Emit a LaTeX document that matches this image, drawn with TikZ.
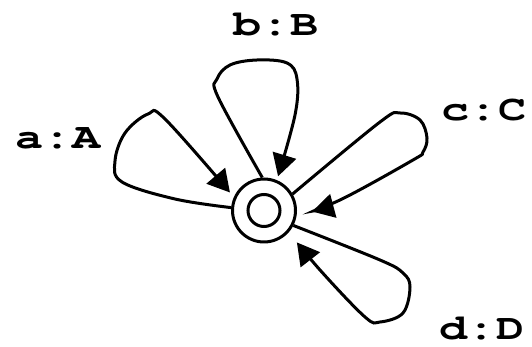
\documentclass[tikz,border=0pt]{standalone}
\usepackage{fontspec}
\usepackage{graphicx}
\usetikzlibrary{arrows.meta}
\newfontfamily\lblfont{TeX Gyre Cursor}
\newcommand\lbltxt[1]{\scalebox{1.3}[1]{#1}}
\begin{document}
\begin{tikzpicture}[x=1pt,y=1pt,
  lbl/.style={font=\lblfont\bfseries\fontsize{36}{36}\selectfont, inner sep=0pt, anchor=base},
  loopline/.style={line width=3pt, -{Triangle[length=22pt,width=24pt]}},
  statering/.style={circle, draw, line width=3pt, inner sep=0pt}]
\useasboundingbox (0,0) rectangle (532,347);
\node[statering, minimum size=63pt] (s) at (264,136.5) {};
\node[statering, minimum size=32pt] (si) at (s.center) {};
% labels
\node[lbl] (la) at (58,198) {\lbltxt{a:A}};
\node[lbl] (lb) at (276,311) {\lbltxt{b:B}};
\node[lbl] (lc) at (484,226) {\lbltxt{c:C}};
\node[lbl] (ld) at (482,7) {\lbltxt{d:D}};
% loops
\draw[loopline, shorten >=6pt] plot[smooth, tension=0.6] coordinates
  {(s.175) (175,148) (122,165) (115,186) (125,214) (148,233) (165,228) (s.156)};
\draw[loopline, shorten >=4pt] plot[smooth, tension=0.6] coordinates
  {(s.93) (218,250) (217,268) (230,282) (257,287) (287,284) (297,268) (295,232) (s.67)};
\draw[loopline, shorten >=16pt] plot[smooth, tension=0.6] coordinates
  {(s.30) (380,225) (400,234) (420,227) (427,209) (423,195) (413,187) (340,147) (s.-9)};
\draw[loopline, shorten >=13pt] plot[smooth, tension=0.6] coordinates
  {(s.-27) (380,87) (403,74) (410,60) (403,34) (380,25) (365,30) (320,77) (s.-41)};
\end{tikzpicture}
\end{document}
